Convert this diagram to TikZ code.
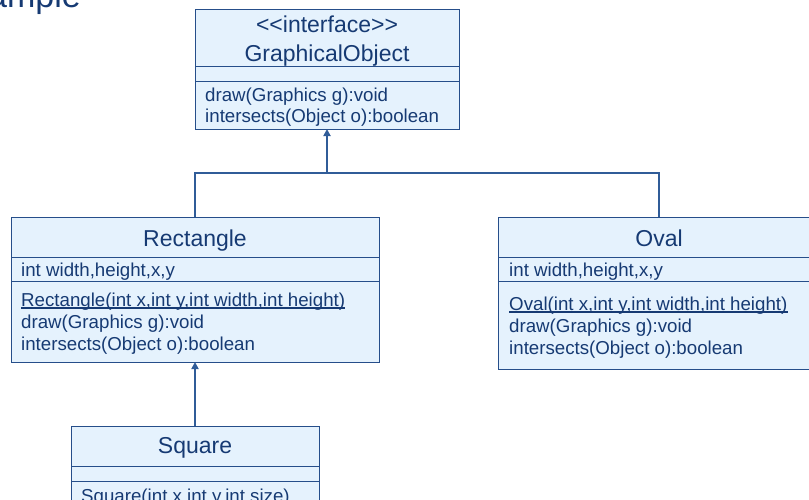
\documentclass[tikz,border=0pt]{standalone}
\usepackage{fontspec}
\setmainfont{Liberation Sans}
\usetikzlibrary{arrows.meta}
\definecolor{umlfill}{RGB}{229,242,253}
\definecolor{umlline}{RGB}{38,78,138}
\definecolor{umltext}{RGB}{22,58,115}
\definecolor{conncol}{RGB}{48,92,152}
\begin{document}
\begin{tikzpicture}[x=1pt,y=-1pt,
  classbox/.style={draw=umlline, fill=umlfill, line width=1pt, anchor=north west, inner sep=0pt, outer sep=0pt},
  sepline/.style={draw=umlline, line width=1pt},
  hdr/.style={font=\fontsize{23}{23}\selectfont, text=umltext, anchor=base, inner sep=0pt},
  mem/.style={font=\fontsize{18.7}{18.7}\selectfont, text=umltext, anchor=base west, inner sep=0pt},
  ulin/.style={draw=umltext, line width=1.2pt},
  conn/.style={draw=conncol, line width=1.3pt},
  inh/.style={draw=conncol, line width=1.8pt, -{Triangle[length=7pt,width=7pt]}},
  titletext/.style={font=\fontsize{34}{34}\selectfont, text=umltext, anchor=base east, inner sep=0pt}
]
\useasboundingbox (0,0) rectangle (809,499);

% title (cut off at top)
\node[titletext] (title) at (81,7) {Example};

% GraphicalObject
\node[classbox, minimum width=264pt, minimum height=120pt] (go) at (195,9) {};
\draw[sepline] (go.west |- 0,66) -- (go.east |- 0,66);
\draw[sepline] (go.west |- 0,81) -- (go.east |- 0,81);
\node[hdr] (go-st) at (327,32) {{<}{<}interface{>}{>}};
\node[hdr] (go-nm) at (327,61) {GraphicalObject};
\node[mem] (go-m1) at (205,101) {draw(Graphics g):void};
\node[mem] (go-m2) at (205,122) {intersects(Object o):boolean};

% Rectangle
\node[classbox, minimum width=368pt, minimum height=145pt] (rect) at (11,217) {};
\draw[sepline] (rect.west |- 0,257) -- (rect.east |- 0,257);
\draw[sepline] (rect.west |- 0,281) -- (rect.east |- 0,281);
\node[hdr] (rect-nm) at (195,246) {Rectangle};
\node[mem] (rect-a1) at (21,276) {int width,height,x,y};
\node[mem] (rect-m0) at (21,306) {Rectangle(int x,int y,int width,int height)};
\draw[ulin] ([yshift=-2pt]rect-m0.base west) -- ([yshift=-2pt]rect-m0.base east);
\node[mem] (rect-m1) at (21,328) {draw(Graphics g):void};
\node[mem] (rect-m2) at (21,350) {intersects(Object o):boolean};

% Oval
\node[classbox, minimum width=322pt, minimum height=152pt] (oval) at (498,217) {};
\draw[sepline] (oval.west |- 0,257) -- (oval.east |- 0,257);
\draw[sepline] (oval.west |- 0,281) -- (oval.east |- 0,281);
\node[hdr] (oval-nm) at (659,246) {Oval};
\node[mem] (oval-a1) at (509,276) {int width,height,x,y};
\node[mem] (oval-m0) at (509,310) {Oval(int x,int y,int width,int height)};
\draw[ulin] ([yshift=-2pt]oval-m0.base west) -- ([yshift=-2pt]oval-m0.base east);
\node[mem] (oval-m1) at (509,332) {draw(Graphics g):void};
\node[mem] (oval-m2) at (509,354) {intersects(Object o):boolean};

% Square (cut off at bottom)
\node[classbox, minimum width=248pt, minimum height=110pt] (sq) at (71,426) {};
\draw[sepline] (sq.west |- 0,466) -- (sq.east |- 0,466);
\draw[sepline] (sq.west |- 0,481) -- (sq.east |- 0,481);
\node[hdr] (sq-nm) at (195,453) {Square};
\node[mem] (sq-m0) at (81,502) {Square(int x,int y,int size)};
\draw[ulin] ([yshift=-2pt]sq-m0.base west) -- ([yshift=-2pt]sq-m0.base east);

% connectors
\coordinate (jn) at (327,173);
\coordinate (jl) at (rect.north |- jn);
\coordinate (jr) at (oval.north |- jn);
\draw[conn] (rect.north) -- (jl) -- (jr) -- (oval.north);
\draw[inh] (jn) -- (go.south);
\draw[inh] (sq.north) -- (rect.south);
\end{tikzpicture}
\end{document}
